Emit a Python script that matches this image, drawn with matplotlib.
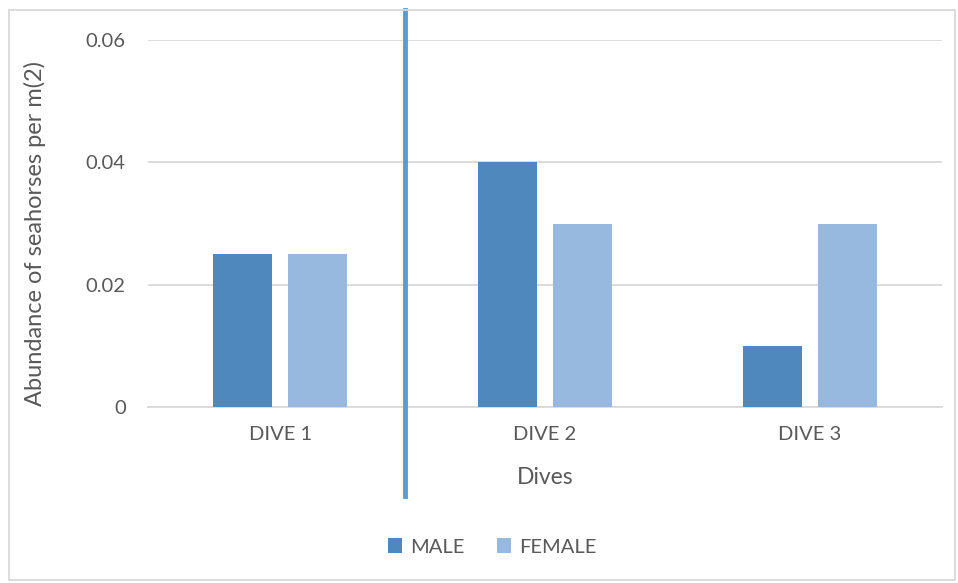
import matplotlib
matplotlib.use("Agg")
import matplotlib.pyplot as plt
import matplotlib.transforms as mtransforms
from matplotlib.patches import Rectangle
import numpy as np

categories = ["DIVE 1", "DIVE 2", "DIVE 3"]
male = [0.025, 0.04, 0.01]
female = [0.025, 0.03, 0.03]
yticks = [0, 0.02, 0.04, 0.06]
ytick_labels = ["0", "0.02", "0.04", "0.06"]

plt.rcParams["font.family"] = ["Lato", "DejaVu Sans"]
text_col = "#595959"

fig = plt.figure(figsize=(9.58, 5.83), dpi=100)
ax = fig.add_axes([148 / 958, 1 - 407 / 583, (942 - 148) / 958, (407 - 40) / 583])

x = np.arange(len(categories))
w = 0.223
off = 0.142
ax.bar(x - off, male, w, color="#4F88BD", label="MALE", zorder=3)
ax.bar(x + off, female, w, color="#98B9DF", label="FEMALE", zorder=3)

ax.set_xlim(-0.5, 2.5)
ax.set_ylim(0, 0.06)
ax.set_yticks(yticks)
ax.set_yticklabels(ytick_labels)
ax.set_xticks(x)
ax.set_xticklabels(categories)
ax.tick_params(axis="both", length=0, labelsize=14.5, colors=text_col)
ax.tick_params(axis="y", pad=16)
ax.tick_params(axis="x", pad=14)
ax.grid(axis="y", color="#D9D9D9", linewidth=1.3, zorder=0)
for s in ["top", "right", "left"]:
    ax.spines[s].set_visible(False)
ax.spines["bottom"].set_color("#D9D9D9")
ax.spines["bottom"].set_linewidth(1.3)
ax.spines["bottom"].set_zorder(1)

ax.set_xlabel("Dives", fontsize=16.5, color=text_col)
ax.set_ylabel("Abundance of seahorses per m(2)", fontsize=17, color=text_col)
ax.xaxis.set_label_coords(0.5, -(477 - 407) / 367, transform=ax.transAxes)
ax.yaxis.set_label_coords(-(148 - 35) / 794, (407 - 233) / 367, transform=ax.transAxes)
ax.xaxis.label.set_va("center")
ax.yaxis.label.set_va("center")

# divider line between dive 1 and dive 2
trans = mtransforms.blended_transform_factory(ax.transData, fig.transFigure)
ax.plot([0.471, 0.471], [1 - 10 / 583, 1 - 496 / 583], transform=trans,
        color="#5B9BD5", linewidth=3.5, clip_on=False, zorder=5)

leg = fig.legend(loc="center", bbox_to_anchor=(492 / 958, 1 - 547 / 583), ncol=2,
                 frameon=False, fontsize=14.5, handlelength=0.7, handleheight=0.7,
                 handletextpad=0.4, columnspacing=1.6)
for t in leg.get_texts():
    t.set_color(text_col)

# chart border
fig.patches.append(Rectangle((9 / 958, 3 / 583), 946 / 958, 570 / 583,
                             transform=fig.transFigure, fill=False,
                             edgecolor="#D9D9D9", linewidth=1.3))

fig.savefig("out.png", dpi=100, facecolor="white")
